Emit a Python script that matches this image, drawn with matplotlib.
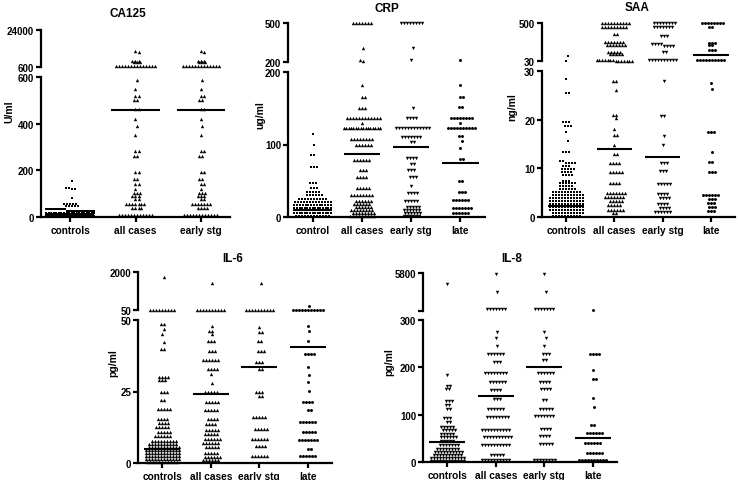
import numpy as np
import matplotlib
matplotlib.use("Agg")
import matplotlib.pyplot as plt

plt.rcParams["font.family"] = ["Liberation Sans", "DejaVu Sans"]
plt.rcParams["font.weight"] = "bold"

W, H = 738, 481

# ── Data: row values and how many dots sit on each row ───────────────────────

# CA125 (U/ml), break at 600
ca125_cats = ["controls", "all cases", "early stg"]
ca125_ctrl_v = [155, 125, 120, 82, 56, 47, 34, 26, 17, 9, 3]
ca125_ctrl_n = [1, 2, 2, 1, 5, 5, 14, 20, 20, 18, 12]
ca125_all_v = [10900, 9900, 4300, 3700, 1000,
               589, 550, 520, 500, 464, 421, 389, 350, 285, 260, 193, 165,
               140, 120, 105, 90, 78, 55, 40, 10]
ca125_all_n = [1, 1, 3, 3, 14,
               1, 1, 2, 2, 2, 1, 1, 1, 2, 2, 2, 2,
               2, 1, 3, 3, 2, 7, 4, 12]
ca125_early_v = [10900, 9900, 4300, 3700, 1000,
                 589, 550, 520, 500, 464, 421, 389, 350, 285, 260, 193, 165,
                 140, 120, 105, 90, 78, 55, 40, 10]
ca125_early_n = [1, 1, 3, 3, 13,
                 1, 1, 2, 2, 2, 1, 1, 1, 2, 2, 2, 2,
                 2, 1, 3, 3, 2, 7, 4, 12]
ca125_lines = [14, 460, 460]

# CRP (ug/ml), break at 200
crp_cats = ["control", "all cases", "early stg", "late"]
crp_ctrl_v = [114, 99, 86, 69, 47, 40, 35, 30, 25, 21, 17, 13, 9, 5, 1]
crp_ctrl_n = [1, 1, 2, 3, 3, 3, 5, 6, 10, 13, 14, 15, 15, 15, 12]
crp_all_v = [500, 307, 215, 210,
             182, 166, 150, 137, 130, 123, 108, 100, 78, 65, 55, 40, 30,
             22, 18, 14, 10, 6, 2]
crp_all_n = [7, 1, 1, 1,
             1, 2, 3, 12, 1, 16, 8, 6, 6, 3, 4, 5, 8,
             6, 6, 6, 8, 8, 9]
crp_early_v = [500, 307, 212,
               151, 137, 123, 110, 103, 82, 73, 65, 55, 43, 33, 22, 14, 10,
               6, 2]
crp_early_n = [8, 1, 1,
               1, 4, 12, 7, 2, 4, 2, 3, 3, 1, 4, 5, 5, 6,
               6, 6]
crp_late_v = [212,
              182, 166, 152, 137, 130, 123, 112, 105, 95, 80, 50, 35, 24, 12, 5]
crp_late_n = [1,
              1, 2, 2, 8, 1, 10, 2, 1, 1, 2, 2, 3, 6, 7, 6]
crp_lines = [10, 87, 97, 74]

# SAA (ng/ml), break at 30
saa_cats = ["controls", "all cases", "early stg", "late"]
saa_ctrl_v = [91, 35, 28.3, 25.5, 19.5, 18.8, 17.4, 15.7, 13.3, 11.6, 11,
              10.4, 9.8, 9.2, 8.6, 7.5, 6.9, 6.3, 5.7, 5.1, 4.5, 3.9, 3.3,
              2.7, 2.1, 1.5, 0.9, 0.3]
saa_ctrl_n = [1, 1, 1, 2, 3, 3, 1, 1, 3, 2, 4,
              3, 5, 4, 4, 3, 6, 5, 6, 10, 11, 12, 12,
              12, 12, 12, 11, 10]
saa_all_v = [500, 450, 365, 260, 230, 140, 120, 38, 34,
             28, 26, 21, 20.4, 18, 16.8, 14.7, 13, 11, 9.3, 7, 5, 4.2, 3.2,
             2.5, 1.5, 0.8]
saa_all_n = [10, 9, 2, 7, 7, 5, 5, 7, 7,
             2, 1, 2, 1, 1, 2, 1, 2, 4, 5, 4, 7, 7, 5,
             5, 6, 2]
saa_early_v = [500, 450, 340, 240, 210, 140, 40,
               28, 20.8, 16.7, 14.7, 11, 9.5, 6.8, 4.8, 4, 2.6, 1.8, 1]
saa_early_n = [8, 7, 3, 4, 4, 2, 10,
               1, 2, 1, 1, 3, 3, 5, 4, 4, 4, 4, 6]
saa_late_v = [500, 450, 250, 230, 160, 38,
              27.6, 26.4, 17.5, 13.3, 11.3, 9.3, 4.5, 3.6, 2.8, 2, 1.3]
saa_late_n = [8, 2, 3, 2, 3, 10,
              1, 1, 3, 1, 2, 3, 6, 3, 3, 3, 3]
saa_lines = [2.2, 14.0, 12.3, 99]

# IL-6 (pg/ml), break at 50
il6_cats = ["controls", "all cases", "early stg", "late"]
il6_ctrl_v = [1760, 55,
              48.6, 46.9, 45, 42.2, 40, 30, 29, 25, 22, 19, 15.5, 14, 12.5,
              11, 9.5, 7.8, 6.8, 5.7, 4.7, 3.6, 2.6, 1.5, 0.5]
il6_ctrl_n = [1, 9,
              2, 1, 1, 1, 2, 4, 3, 3, 2, 5, 4, 4, 5,
              5, 6, 9, 10, 11, 12, 12, 12, 12, 11]
il6_all_v = [1460, 55,
             48, 46, 45, 42.5, 39, 36, 33, 31, 28, 25, 21.5, 18.5, 15.5, 13.5,
             11.5, 10, 8.5, 7, 5.5, 3.5, 2, 1]
il6_all_n = [1, 10,
             1, 2, 1, 3, 3, 6, 4, 1, 1, 5, 5, 5, 4, 4,
             5, 5, 6, 6, 5, 5, 6, 6]
il6_early_v = [1460, 55,
               47.5, 45.7, 42.5, 39, 35.3, 33, 25, 23.6, 16, 12, 8.5, 6, 2.5]
il6_early_n = [1, 10,
               1, 2, 2, 3, 3, 2, 3, 2, 5, 5, 6, 4, 6]
il6_late_v = [270, 55,
              48, 46, 42.5, 38, 33.5, 30.6, 28.3, 25.3, 21.5, 18.4, 14.5, 11,
              8, 5, 2.3]
il6_late_n = [1, 11,
              1, 1, 1, 4, 1, 1, 1, 1, 4, 2, 6, 5,
              7, 2, 6]
il6_lines = [4.8, 24.0, 33.7, 40.6]

# IL-8 (pg/ml), break at 300
il8_cats = ["controls", "all cases", "early stg", "late"]
il8_ctrl_v = [4200, 183, 160, 155, 128, 120, 112, 93, 85, 75, 68, 60, 52,
              44, 35, 28, 21, 15, 9, 3]
il8_ctrl_n = [1, 1, 2, 2, 3, 2, 2, 3, 2, 5, 5, 5, 6,
              5, 7, 8, 10, 10, 12, 12]
il8_all_v = [5600, 3000, 590,
             275, 263, 246, 228, 212, 188, 168, 152, 133, 112, 95, 68, 52, 35,
             15, 5]
il8_all_n = [1, 1, 7,
             1, 1, 1, 6, 3, 8, 6, 4, 3, 6, 8, 10, 10, 10,
             5, 10]
il8_early_v = [5600, 3000, 590,
               275, 263, 246, 229, 215, 188, 168, 155, 131, 113, 97, 70, 55,
               38, 4]
il8_early_n = [1, 1, 7,
               1, 1, 1, 3, 2, 6, 4, 4, 2, 5, 7, 4, 4,
               5, 8]
il8_late_v = [400, 228, 194, 175, 135, 117, 78, 62, 40, 18, 4]
il8_late_n = [1, 4, 1, 2, 1, 1, 2, 6, 6, 6, 10]
il8_lines = [42.6, 139, 201, 51]


# ── Helpers ──────────────────────────────────────────────────────────────────

def rect(x0, y0, x1, y1):
    return [x0 / W, 1 - y1 / H, (x1 - x0) / W, (y1 - y0) / H]


def swarm(ax, xc, vals, half_px, d=3.0):
    """Spread dots sideways, row by row, GraphPad style."""
    if len(vals) == 0:
        return np.array([])
    xy = ax.transData.transform(np.column_stack([np.full(len(vals), float(xc)), vals]))
    rows = np.round(xy[:, 1] / d)
    xs = xy[:, 0].copy()
    for j, r in enumerate(np.unique(rows)):
        idx = np.where(rows == r)[0]
        k = len(idx)
        step = min(d, 2 * half_px / max(k - 1, 1))
        shift = 0.5 * step if (j % 2 and k < 2 * half_px / d) else 0.0
        xs[idx] = xy[idx, 0] + (np.arange(k) - (k - 1) / 2) * step + shift
    return ax.transData.inverted().transform(np.column_stack([xs, xy[:, 1]]))[:, 0]


def style(ax):
    for s in ("top", "right"):
        ax.spines[s].set_visible(False)
    for s in ("left", "bottom"):
        ax.spines[s].set_linewidth(1.6)
    ax.tick_params(axis="y", length=3.5, width=1.6, labelsize=7, pad=1.5)
    ax.set_facecolor("none")


MARKER_SIZE = {"s": 3.2, "o": 4.5, "^": 6, "v": 6}


def panel(fig, box, brk, top, lo_ticks, up_ticks, up_labels, cats, groups,
          markers, lines, xlim, title, title_xy, ylabel, ylabel_xy):
    x0, x1, y_up0, y_up1, y_lo0, y_lo1 = box
    ax_up = fig.add_axes(rect(x0, y_up0, x1, y_up1))
    ax_lo = fig.add_axes(rect(x0, y_lo0, x1, y_lo1))
    for ax in (ax_up, ax_lo):
        style(ax)
        ax.set_xlim(*xlim)
    ax_up.set_ylim(brk, top)
    ax_lo.set_ylim(0, brk)
    ax_up.spines["bottom"].set_visible(False)
    ax_up.set_xticks([])
    ax_up.set_yticks(up_ticks)
    ax_up.set_yticklabels(up_labels, fontweight="bold")
    ax_lo.set_yticks(lo_ticks)
    ax_lo.set_yticklabels([str(t) for t in lo_ticks], fontweight="bold")
    ax_lo.set_xticks(range(len(cats)))
    ax_lo.set_xticklabels(cats, fontsize=7.3, fontweight="bold")
    ax_lo.tick_params(axis="x", length=3.5, width=1.6, pad=2)

    spacing = (x1 - x0) / (xlim[1] - xlim[0])
    half = 0.37 * spacing
    for i, ((v, n), mk) in enumerate(zip(groups, markers)):
        vals = np.repeat(np.asarray(v, dtype=float), n)
        for ax, sel in ((ax_lo, vals <= brk), (ax_up, vals > brk)):
            yv = vals[sel]
            if len(yv) == 0:
                continue
            xv = swarm(ax, i, yv, half)
            ax.scatter(xv, yv, s=MARKER_SIZE[mk], marker=mk, color="black",
                       lw=0, clip_on=False, zorder=3)
        m = lines[i]
        ax = ax_up if m > brk else ax_lo
        ax.plot([i - 0.37, i + 0.37], [m, m], color="black", lw=1.5,
                solid_capstyle="butt", zorder=4, clip_on=False)

    fig.text(title_xy[0] / W, 1 - title_xy[1] / H, title, ha="center",
             va="center", fontsize=8.5, fontweight="bold")
    fig.text(ylabel_xy[0] / W, 1 - ylabel_xy[1] / H, ylabel, ha="center",
             va="center", rotation=90, fontsize=7.5, fontweight="bold")


# ── Figure ───────────────────────────────────────────────────────────────────

fig = plt.figure(figsize=(W / 100, H / 100), dpi=100, facecolor="white")

panel(fig, (41, 230, 31, 68, 78, 218), 600, 24000,
      [0, 200, 400, 600], [600, 24000], ["600", "24000"], ca125_cats,
      [(ca125_ctrl_v, ca125_ctrl_n), (ca125_all_v, ca125_all_n),
       (ca125_early_v, ca125_early_n)],
      ["s", "^", "^"], ca125_lines, (-0.45, 2.45),
      "CA125", (128, 14), "U/ml", (9, 112))

panel(fig, (288, 485, 24, 63, 73, 218), 200, 500,
      [0, 100, 200], [200, 500], ["200", "500"], crp_cats,
      [(crp_ctrl_v, crp_ctrl_n), (crp_all_v, crp_all_n),
       (crp_early_v, crp_early_n), (crp_late_v, crp_late_n)],
      ["s", "^", "v", "o"], crp_lines, (-0.5, 3.5),
      "CRP", (387, 9), "ug/ml", (260, 115))

panel(fig, (542, 735, 24, 62, 72, 218), 30, 500,
      [0, 10, 20, 30], [30, 500], ["30", "500"], saa_cats,
      [(saa_ctrl_v, saa_ctrl_n), (saa_all_v, saa_all_n),
       (saa_early_v, saa_early_n), (saa_late_v, saa_late_n)],
      ["s", "^", "v", "o"], saa_lines, (-0.5, 3.5),
      "SAA", (637, 8), "ng/ml", (512, 107))

panel(fig, (138, 332, 273, 311, 321, 464), 50, 2000,
      [0, 25, 50], [50, 2000], ["50", "2000"], il6_cats,
      [(il6_ctrl_v, il6_ctrl_n), (il6_all_v, il6_all_n),
       (il6_early_v, il6_early_n), (il6_late_v, il6_late_n)],
      ["^", "^", "^", "o"], il6_lines, (-0.5, 3.5),
      "IL-6", (233, 259), "pg/ml", (113, 363))

panel(fig, (423, 617, 274, 312, 321, 463), 300, 5800,
      [0, 100, 200, 300], [300, 5800], ["", "5800"], il8_cats,
      [(il8_ctrl_v, il8_ctrl_n), (il8_all_v, il8_all_n),
       (il8_early_v, il8_early_n), (il8_late_v, il8_late_n)],
      ["v", "v", "v", "o"], il8_lines, (-0.5, 3.5),
      "IL-8", (512, 259), "pg/ml", (389, 362))

fig.savefig("out.png", dpi=100, facecolor="white")
plt.close(fig)
